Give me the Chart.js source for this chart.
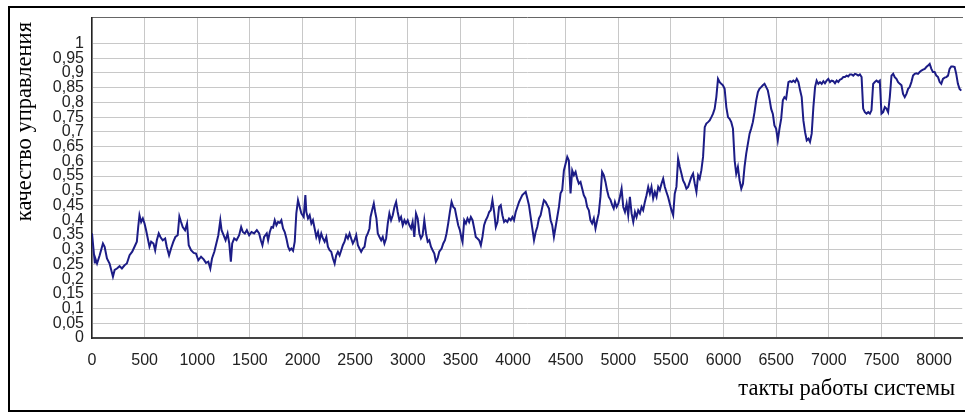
<!DOCTYPE html>
<html><head><meta charset="utf-8">
<script src="https://cdn.jsdelivr.net/npm/chart.js@4.4.1/dist/chart.umd.min.js"></script>
<style>
html,body{margin:0;padding:0;background:#fff;overflow:hidden;width:965px;height:418px;}
#frame{position:absolute;left:8px;top:6px;width:1100px;height:402px;border:2px solid #000;pointer-events:none;}
canvas{position:absolute;left:0;top:0;}
</style></head><body>
<canvas id="c" width="965" height="418"></canvas>
<div id="frame"></div>
<script>
// x: такты работы системы
const taktSteps = [
0,27,32,48,73,104,120,142,167,199,
215,237,262,284,309,331,357,382,404,426,
439,451,467,483,499,514,530,546,562,584,
600,616,634,650,672,695,710,732,751,773,
792,814,830,846,862,884,903,919,941,966,
988,1010,1036,1061,1083,1105,1124,1140,1162,1181,
1200,1219,1231,1250,1269,1288,1304,1319,1332,1351,
1373,1398,1417,1433,1452,1471,1493,1515,1540,1566,
1588,1604,1619,1635,1660,
1673,1689,1705,1720,1736,1752,1768,1784,1799,1815,
1831,1847,1863,1878,1894,1910,1926,1941,1957,1973,
1989,2011,2027,2036,2052,2068,2084,2099,2115,2131,
2147,2162,2178,2194,2210,2226,2241,2257,2273,2289,
2305,2320,2336,2352,2368,2383,2399,2415,2431,2447,
2462,2478,2494,2510,2526,2541,2557,2573,2589,2604,
2620,2636,2646,2661,2677,2690,2702,2715,2731,2747,
2762,2778,2794,2810,2825,2841,2857,2873,2889,2904,
2920,2936,2952,2968,2983,2999,3015,3031,3046,3062,
3078,3094,3110,3125,3141,3157,3173,3189,3204,3220,
3236,3252,3267,3283,3299,
3321,3337,3353,3368,3384,3400,3416,3432,3447,3463,
3479,3495,3511,3520,3536,3552,3567,3583,3599,3615,
3631,3646,3662,3678,3694,3709,3725,3741,3757,3773,
3788,3804,3820,3836,3852,3867,3883,3899,3915,3930,
3946,3962,3978,3994,4009,4025,4041,4057,4073,4088,
4104,4120,4136,4151,4167,4183,4199,4215,4230,4246,
4262,4278,4293,4309,4325,4341,4357,4372,4388,4404,
4420,4436,4451,4467,4483,4499,4515,4530,4546,4562,
4578,4594,4609,4625,4641,4657,4672,4688,4704,4720,
4735,4751,4767,4783,4799,4814,4830,4846,4862,4878,
4893,4909,4925,4941,4956,
4968,4984,5000,5015,5031,5047,5063,5079,5094,5110,
5126,5142,5158,5173,5189,5205,5221,5236,5252,5268,
5284,5300,5315,5331,5347,5363,5379,5394,5410,5426,
5442,5457,5473,5489,5505,5521,5536,5552,5568,5584,
5600,5615,5631,5647,5663,5679,5694,5710,5726,5742,
5758,5773,5789,5805,5821,5836,5852,5868,5884,5899,
5915,5931,5947,5963,5978,5994,6010,6026,6042,6057,
6073,6089,6105,6120,6136,6152,6168,6184,6199,6215,
6231,6247,6262,6278,6294,6310,6326,6341,6357,6373,
6389,6405,6420,6436,6452,6468,6483,6499,6515,6531,
6547,6563,6578,6594,
6616,6632,6648,6663,6679,6695,6711,6727,6742,6758,
6774,6790,6806,6821,6837,6853,6869,6884,6900,6916,
6932,6948,6963,6979,6995,7011,7027,7042,7058,7074,
7090,7105,7121,7137,7153,7169,7184,7200,7216,7232,
7248,7263,7279,7295,7311,7326,7342,7358,7374,7390,
7405,7421,7437,7453,7469,7484,7500,7516,7532,7547,
7563,7579,7595,7611,7626,7642,7658,7674,7690,7705,
7721,7737,7753,7768,7784,7800,7816,7832,7847,7863,
7879,7895,7911,7926,7942,7958,7974,7989,8005,8021,
8037,8053,8068,8084,8100,8116,8132,8147,8163,8179,
8195,8210,8226,8242,8258
];
// y: качество управления
const quality = [
0.355,0.253,0.270,0.253,0.281,0.321,0.310,0.270,0.253,0.208,
0.231,0.236,0.244,0.236,0.247,0.253,0.281,0.293,0.310,0.327,
0.377,0.417,0.394,0.406,0.389,0.366,0.338,0.310,0.327,0.321,
0.298,0.332,0.355,0.343,0.332,0.338,0.310,0.281,0.304,0.327,
0.343,0.349,0.413,0.394,0.377,0.366,0.389,0.315,0.298,0.289,
0.287,0.264,0.276,0.267,0.255,0.259,0.236,0.270,0.293,0.321,
0.349,0.400,0.366,0.349,0.332,0.355,0.321,0.259,0.321,0.338,
0.332,0.349,0.377,0.360,0.355,0.366,0.349,0.360,0.355,0.366,
0.355,0.332,0.315,0.343,0.355,
0.332,0.360,0.377,0.375,0.400,0.383,0.394,0.391,0.400,0.372,
0.360,0.338,0.310,0.298,0.304,0.296,0.327,0.423,0.468,0.445,
0.423,0.411,0.485,0.428,0.406,0.417,0.389,0.400,0.372,0.343,
0.360,0.332,0.355,0.338,0.327,0.343,0.310,0.298,0.293,0.270,
0.253,0.281,0.293,0.281,0.298,0.315,0.327,0.349,0.338,0.355,
0.338,0.321,0.332,0.349,0.315,0.304,0.293,0.304,0.310,0.343,
0.355,0.372,0.411,0.434,0.457,0.428,0.406,0.355,0.343,0.332,
0.343,0.321,0.338,0.389,0.423,0.400,0.417,0.445,0.462,0.428,
0.400,0.411,0.383,0.400,0.389,0.400,0.383,0.372,0.394,0.343,
0.423,0.406,0.355,0.338,0.349,0.400,0.355,0.327,0.332,0.310,
0.298,0.287,0.259,0.270,0.293,
0.304,0.321,0.332,0.355,0.389,0.428,0.462,0.445,0.440,0.411,
0.383,0.366,0.338,0.326,0.400,0.389,0.406,0.394,0.411,0.400,
0.372,0.343,0.338,0.332,0.315,0.343,0.383,0.400,0.411,0.428,
0.434,0.468,0.428,0.377,0.394,0.445,0.451,0.417,0.394,0.400,
0.394,0.406,0.400,0.411,0.400,0.428,0.445,0.462,0.474,0.485,
0.491,0.496,0.474,0.451,0.411,0.372,0.332,0.360,0.377,0.406,
0.417,0.445,0.468,0.462,0.451,0.440,0.400,0.383,0.343,0.377,
0.411,0.445,0.491,0.502,0.569,0.592,0.615,0.603,0.491,0.569,
0.553,0.564,0.541,0.524,0.530,0.507,0.485,0.474,0.445,0.434,
0.400,0.389,0.406,0.372,0.400,0.423,0.479,0.564,0.553,0.530,
0.502,0.479,0.470,0.452,0.440,
0.462,0.445,0.456,0.479,0.507,0.445,0.428,0.456,0.417,0.479,
0.423,0.394,0.428,0.411,0.434,0.423,0.445,0.434,0.462,0.485,
0.513,0.490,0.513,0.474,0.496,0.479,0.513,0.502,0.524,0.541,
0.513,0.496,0.479,0.456,0.434,0.417,0.490,0.513,0.609,0.581,
0.558,0.535,0.524,0.507,0.513,0.530,0.547,0.558,0.524,0.496,
0.552,0.541,0.570,0.615,0.716,0.728,0.733,0.739,0.750,0.761,
0.778,0.818,0.880,0.869,0.863,0.858,0.846,0.784,0.750,0.744,
0.733,0.711,0.603,0.558,0.581,0.535,0.507,0.524,0.581,0.626,
0.660,0.694,0.711,0.733,0.767,0.807,0.835,0.846,0.852,0.858,
0.863,0.852,0.841,0.812,0.778,0.761,0.722,0.711,0.671,0.711,
0.744,0.807,0.818,0.812,
0.869,0.872,0.869,0.874,0.869,0.880,0.869,0.841,0.818,0.739,
0.699,0.671,0.677,0.666,0.694,0.784,0.852,0.874,0.863,0.869,
0.863,0.872,0.865,0.874,0.880,0.869,0.874,0.872,0.865,0.874,
0.869,0.877,0.880,0.886,0.886,0.891,0.888,0.895,0.895,0.891,
0.897,0.895,0.891,0.895,0.886,0.779,0.767,0.762,0.767,0.762,
0.773,0.863,0.869,0.874,0.869,0.874,0.762,0.767,0.784,0.779,
0.767,0.818,0.891,0.897,0.886,0.880,0.869,0.863,0.858,0.829,
0.818,0.829,0.846,0.852,0.869,0.891,0.897,0.899,0.897,0.903,
0.908,0.911,0.914,0.920,0.925,0.931,0.914,0.903,0.903,0.891,
0.886,0.869,0.863,0.880,0.884,0.886,0.891,0.914,0.922,0.922,
0.920,0.897,0.863,0.846,0.840
];
const xTickValues = [0,500,1000,1500,2000,2500,3000,3500,4000,4500,5000,5500,6000,6500,7000,7500,8000];
const yTickValues = [0,0.05,0.1,0.15,0.2,0.25,0.3,0.35,0.4,0.45,0.5,0.55,0.6,0.65,0.7,0.75,0.8,0.85,0.9,0.95,1];
const yTickLabels = ['0','0,05','0,1','0,15','0,2','0,25','0,3','0,35','0,4','0,45','0,5','0,55','0,6','0,65','0,7','0,75','0,8','0,85','0,9','0,95','1'];
const xAxisTitle = 'такты работы системы';
const yAxisTitle = 'качество управления';

const axisTitles = {
  id: 'axisTitles',
  afterDraw(chart, args, o) {
    const c = chart.ctx;
    c.save();
    c.fillStyle = o.color;
    c.font = o.font;
    c.textBaseline = 'alphabetic';
    c.textAlign = 'right';
    c.fillText(o.xText, o.xRight, o.xBaseline);
    c.translate(o.yBaseline, o.yTop);
    c.rotate(-Math.PI / 2);
    c.textAlign = 'right';
    c.fillText(o.yText, 0, 0);
    c.restore();
  }
};

const tickFont = {family: '"Liberation Sans", Arial, sans-serif', size: 16};
new Chart(document.getElementById('c'), {
  type: 'line',
  data: {
    datasets: [{
      data: taktSteps.map((t, i) => ({x: t, y: quality[i]})),
      borderColor: '#1c1c86',
      borderWidth: 2,
      pointRadius: 0,
      tension: 0,
      fill: false
    }]
  },
  plugins: [axisTitles],
  options: {
    responsive: false,
    animation: false,
    devicePixelRatio: 1,
    layout: {padding: {left: 0, right: 0, top: 17, bottom: 0}},
    plugins: {
      legend: {display: false},
      tooltip: {enabled: false},
      axisTitles: {
        color: '#000', font: '22.5px "Liberation Serif", "Times New Roman", serif',
        xText: xAxisTitle, xRight: 955, xBaseline: 395,
        yText: yAxisTitle, yBaseline: 31, yTop: 22
      }
    },
    scales: {
      x: {
        type: 'linear', min: 0, max: 8267,
        afterFit(s) { s.height = 80; },
        afterBuildTicks(s) { s.ticks = xTickValues.map(v => ({value: v})); },
        ticks: {autoSkip: false, maxRotation: 0, padding: 13, color: '#222', font: tickFont,
                callback: (v) => String(v)},
        grid: {color: '#c8c8c8', lineWidth: 1, drawTicks: false},
        border: {display: true, color: '#444', width: 2}
      },
      xTop: {
        type: 'linear', position: 'top', min: 0, max: 8267,
        ticks: {display: false},
        grid: {display: false, drawTicks: false},
        border: {display: true, color: '#666', width: 1}
      },
      y: {
        type: 'linear', min: 0, max: 1.088,
        afterFit(s) { s.width = 92; },
        afterBuildTicks(s) { s.ticks = yTickValues.map(v => ({value: v})); },
        ticks: {autoSkip: false, padding: 8, color: '#222', font: tickFont,
                callback: (v, i) => yTickLabels[i]},
        grid: {color: '#c8c8c8', lineWidth: 1, drawTicks: false},
        border: {display: true, color: '#222', width: 1.5}
      }
    }
  }
});
</script>
</body></html>
